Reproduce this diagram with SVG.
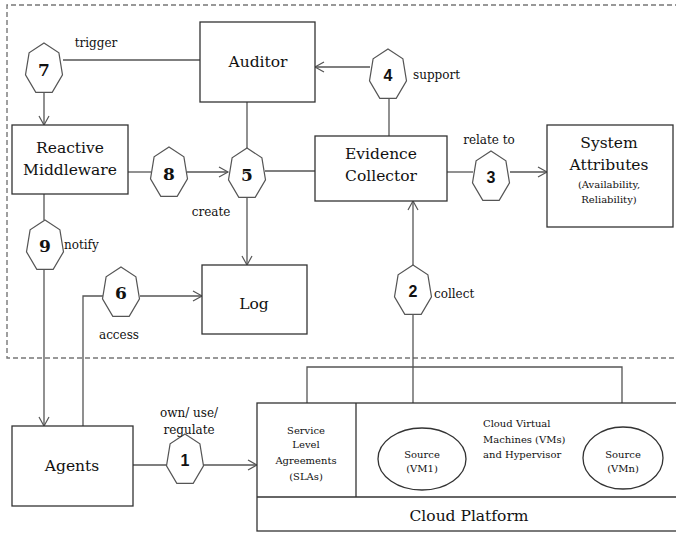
<svg xmlns="http://www.w3.org/2000/svg" xmlns:xlink="http://www.w3.org/1999/xlink" width="676" height="533" viewBox="0 0 676 533">
<style>
.box{fill:#fff;stroke:#333;stroke-width:1.3}
.ln{fill:none;stroke:#555;stroke-width:1.3}
.arr{fill:none;stroke:#555;stroke-width:1.3;marker-end:url(#ah)}
.hep{fill:#fff;stroke:#555;stroke-width:1.2}
.t{fill:#111;text-anchor:middle}
.big{font-size:15.5px}
.lab{font-size:12px}
.sm{font-size:10px}
.num{font-weight:bold;font-size:17px;text-anchor:middle;fill:#111}
.nums{font-weight:bold;font-size:16px;text-anchor:middle;fill:#111}
</style>
<defs>
<marker id="ah" markerWidth="12" markerHeight="12" refX="10" refY="6" orient="auto" markerUnits="userSpaceOnUse">
<path d="M1,1 L10,6 L1,11" fill="none" stroke="#555" stroke-width="1.2"/>
</marker>
<path id="hep" d="M0,-26 L14.9,-16.2 L18.5,5.8 L8.2,23.4 L-8.2,23.4 L-18.5,5.8 L-14.9,-16.2 Z" class="hep"/>
</defs>
<rect width="676" height="533" fill="#fff"/>
<path d="M680,5 L7,5 L7,358 L680,358" fill="none" stroke="#777" stroke-width="1.4" stroke-dasharray="5,3"/>

<g id="connectors">
<line class="ln" x1="63" y1="60" x2="200" y2="60"/>
<line class="arr" x1="44" y1="92" x2="44" y2="125"/>
<line class="ln" x1="128" y1="172" x2="151" y2="172"/>
<line class="arr" x1="187" y1="172" x2="228" y2="172"/>
<line class="ln" x1="247" y1="102" x2="247" y2="149"/>
<line class="ln" x1="265" y1="171" x2="315" y2="171"/>
<line class="arr" x1="247" y1="197" x2="247" y2="265"/>
<line class="arr" x1="370" y1="67" x2="315" y2="67"/>
<line class="ln" x1="389" y1="98" x2="389" y2="136"/>
<line class="ln" x1="447" y1="172" x2="473" y2="172"/>
<line class="arr" x1="510" y1="172" x2="547" y2="172"/>
<line class="arr" x1="413" y1="266" x2="413" y2="201"/>
<line class="ln" x1="413" y1="313" x2="413" y2="428"/>
<line class="ln" x1="44" y1="194" x2="44" y2="220"/>
<line class="arr" x1="44" y1="268" x2="44" y2="426"/>
<polyline class="ln" points="83,426 83,296 103,296"/>
<line class="arr" x1="140" y1="296" x2="202" y2="296"/>
<polyline class="ln" points="307,403 307,367 622,367 622,427"/>
<line class="ln" x1="133" y1="465" x2="167" y2="465"/>
<line class="arr" x1="203" y1="465" x2="257" y2="465"/>
</g>

<g font-family="DejaVu Serif, serif">
<g id="auditor"><rect class="box" x="200" y="22" width="115" height="80"/><text class="t big" x="258" y="67">Auditor</text></g>
<g id="reactive-middleware"><rect class="box" x="12" y="125" width="116" height="69"/><text class="t big" x="70" y="153">Reactive</text><text class="t big" x="70" y="175">Middleware</text></g>
<g id="evidence-collector"><rect class="box" x="315" y="136" width="132" height="65"/><text class="t big" x="381" y="159">Evidence</text><text class="t big" x="381" y="181">Collector</text></g>
<g id="system-attributes"><rect class="box" x="547" y="125" width="126" height="102"/><text class="t big" x="609" y="148">System</text><text class="t big" x="609" y="170">Attributes</text><text class="t sm" x="609" y="188">(Availability,</text><text class="t sm" x="609" y="203">Reliability)</text></g>
<g id="log"><rect class="box" x="202" y="265" width="105" height="69"/><text class="t big" x="254" y="309">Log</text></g>
<g id="agents"><rect class="box" x="12" y="426" width="121" height="80"/><text class="t big" x="72" y="471">Agents</text></g>

<g id="cloud-platform">
<rect class="box" x="257" y="403" width="425" height="128"/>
<line class="ln" x1="257" y1="497" x2="680" y2="497" style="stroke:#333"/>
<line class="ln" x1="356" y1="403" x2="356" y2="497" style="stroke:#333"/>
<text class="t big" x="469" y="521">Cloud Platform</text>
<text class="t sm" x="306" y="434">Service</text>
<text class="t sm" x="306" y="448">Level</text>
<text class="t sm" x="306" y="464">Agreements</text>
<text class="t sm" x="306" y="480">(SLAs)</text>
<text class="t sm" x="483" y="427" style="text-anchor:start">Cloud Virtual</text>
<text class="t sm" x="483" y="443" style="text-anchor:start">Machines (VMs)</text>
<text class="t sm" x="483" y="458" style="text-anchor:start">and Hypervisor</text>
</g>
<g id="source-vm1"><ellipse class="box" cx="422" cy="459" rx="44" ry="31"/><text class="t sm" x="422" y="458">Source</text><text class="t sm" x="422" y="472">(VM1)</text></g>
<g id="source-vmn"><ellipse class="box" cx="623" cy="458" rx="40" ry="31"/><text class="t sm" x="623" y="458">Source</text><text class="t sm" x="623" y="472">(VMn)</text></g>

<g id="h7"><use xlink:href="#hep" x="44" y="69"/><text class="num" x="44" y="76">7</text></g>
<g id="h8"><use xlink:href="#hep" x="169" y="173"/><text class="num" x="169" y="180">8</text></g>
<g id="h5"><use xlink:href="#hep" x="247" y="174"/><text class="num" x="247" y="181">5</text></g>
<g id="h9"><use xlink:href="#hep" x="45" y="246"/><text class="num" x="45" y="252">9</text></g>
<g id="h6"><use xlink:href="#hep" x="121" y="293"/><text class="num" x="121" y="299">6</text></g>
<g id="h4" font-family="Liberation Sans, sans-serif"><use xlink:href="#hep" x="388" y="75"/><text class="nums" x="388" y="81">4</text></g>
<g id="h3" font-family="Liberation Sans, sans-serif"><use xlink:href="#hep" x="491" y="177"/><text class="nums" x="491" y="183">3</text></g>
<g id="h2" font-family="Liberation Sans, sans-serif"><use xlink:href="#hep" x="413" y="291"/><text class="nums" x="413" y="297">2</text></g>
<g id="h1" font-family="Liberation Sans, sans-serif"><use xlink:href="#hep" x="185" y="460"/><text class="nums" x="185" y="466">1</text></g>

<g id="labels">
<text class="t lab" x="96" y="47">trigger</text>
<text class="t lab" x="413" y="79" style="text-anchor:start">support</text>
<text class="t lab" x="489" y="144">relate to</text>
<text class="t lab" x="211" y="216">create</text>
<text class="t lab" x="64" y="249" style="text-anchor:start">notify</text>
<text class="t lab" x="119" y="339">access</text>
<text class="t lab" x="434" y="298" style="text-anchor:start">collect</text>
<text class="t lab" x="189" y="417">own/ use/</text>
<text class="t lab" x="189" y="434">regulate</text>
</g>
</g>
</svg>
